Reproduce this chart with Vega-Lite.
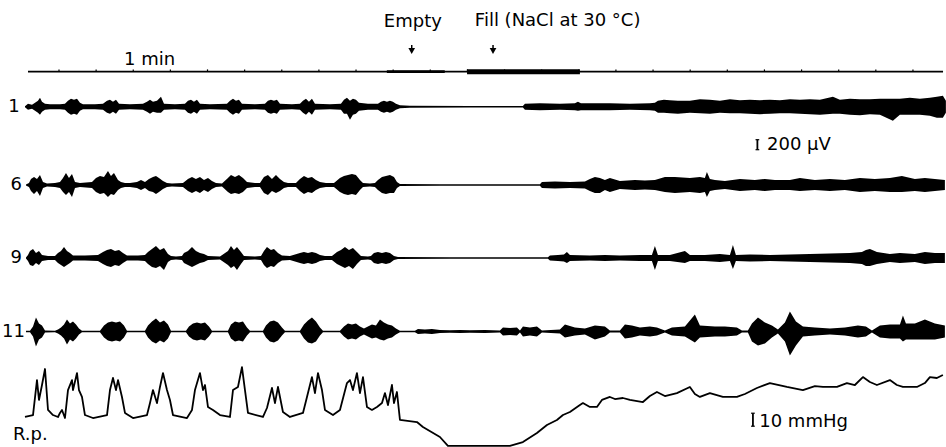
{
"$schema":"https://vega.github.io/schema/vega-lite/v6.json",
"padding":0,
"spacing":0,
"bounds":"flush",
"config":{"view":{"stroke":null},"text":{"font":"DejaVu Sans","fontSize":18,"color":"black"}},
"datasets":{
"ticks":[{"t":10},{"t":20},{"t":30},{"t":40},{"t":50},{"t":60},{"t":70},{"t":80},{"t":90},{"t":100},{"t":110},{"t":120},{"t":130},{"t":140},{"t":150},{"t":160},{"t":170},{"t":180},{"t":190},{"t":200},{"t":210},{"t":220},{"t":230},{"t":240}],
"tr":[
{"k":1,"t":0.84,"u":10,"d":-10},{"k":1,"t":1.65,"u":60,"d":-60},{"k":1,"t":2.73,"u":40,"d":-40},{"k":1,"t":3.54,"u":80,"d":-80},{"k":1,"t":4.34,"u":120,"d":-120},{"k":1,"t":4.88,"u":180,"d":-160},{"k":1,"t":5.42,"u":100,"d":-100},{"k":1,"t":6.23,"u":60,"d":-60},{"k":1,"t":7.58,"u":50,"d":-50},{"k":1,"t":10.27,"u":50,"d":-50},{"k":1,"t":11.61,"u":60,"d":-60},{"k":1,"t":12.42,"u":120,"d":-120},{"k":1,"t":13.23,"u":160,"d":-160},{"k":1,"t":14.04,"u":140,"d":-140},{"k":1,"t":14.85,"u":160,"d":-160},{"k":1,"t":15.65,"u":80,"d":-80},{"k":1,"t":16.46,"u":50,"d":-50},{"k":1,"t":19.69,"u":50,"d":-50},{"k":1,"t":21.85,"u":60,"d":-60},{"k":1,"t":22.93,"u":120,"d":-120},{"k":1,"t":23.73,"u":140,"d":-140},{"k":1,"t":24.54,"u":100,"d":-100},{"k":1,"t":25.35,"u":140,"d":-140},{"k":1,"t":26.16,"u":60,"d":-60},{"k":1,"t":29.12,"u":50,"d":-50},{"k":1,"t":32.62,"u":60,"d":-60},{"k":1,"t":33.70,"u":100,"d":-100},{"k":1,"t":34.51,"u":140,"d":-140},{"k":1,"t":35.31,"u":100,"d":-100},{"k":1,"t":36.39,"u":120,"d":-120},{"k":1,"t":37.47,"u":200,"d":-120},{"k":1,"t":38.28,"u":60,"d":-60},{"k":1,"t":41.24,"u":50,"d":-50},{"k":1,"t":43.93,"u":60,"d":-60},{"k":1,"t":44.74,"u":120,"d":-120},{"k":1,"t":45.55,"u":140,"d":-140},{"k":1,"t":46.35,"u":100,"d":-100},{"k":1,"t":47.16,"u":140,"d":-140},{"k":1,"t":47.97,"u":60,"d":-60},{"k":1,"t":50.66,"u":50,"d":-50},{"k":1,"t":55.24,"u":60,"d":-60},{"k":1,"t":56.05,"u":120,"d":-120},{"k":1,"t":56.86,"u":160,"d":-160},{"k":1,"t":57.66,"u":120,"d":-120},{"k":1,"t":58.47,"u":140,"d":-140},{"k":1,"t":59.28,"u":60,"d":-60},{"k":1,"t":62.78,"u":50,"d":-50},{"k":1,"t":65.47,"u":60,"d":-60},{"k":1,"t":66.28,"u":120,"d":-120},{"k":1,"t":67.09,"u":140,"d":-140},{"k":1,"t":67.90,"u":120,"d":-120},{"k":1,"t":68.70,"u":140,"d":-140},{"k":1,"t":69.51,"u":60,"d":-60},{"k":1,"t":72.75,"u":50,"d":-50},{"k":1,"t":74.90,"u":60,"d":-60},{"k":1,"t":75.71,"u":120,"d":-120},{"k":1,"t":76.52,"u":160,"d":-160},{"k":1,"t":77.32,"u":100,"d":-100},{"k":1,"t":78.13,"u":160,"d":-160},{"k":1,"t":78.94,"u":60,"d":-60},{"k":1,"t":82.98,"u":50,"d":-50},{"k":1,"t":85.94,"u":60,"d":-60},{"k":1,"t":86.75,"u":140,"d":-140},{"k":1,"t":87.56,"u":180,"d":-140},{"k":1,"t":88.37,"u":120,"d":-260},{"k":1,"t":89.17,"u":160,"d":-160},{"k":1,"t":89.98,"u":140,"d":-140},{"k":1,"t":90.79,"u":80,"d":-80},{"k":1,"t":93.21,"u":60,"d":-60},{"k":1,"t":95.91,"u":60,"d":-60},{"k":1,"t":96.71,"u":100,"d":-100},{"k":1,"t":97.52,"u":120,"d":-120},{"k":1,"t":98.33,"u":100,"d":-100},{"k":1,"t":99.14,"u":120,"d":-120},{"k":1,"t":99.94,"u":100,"d":-100},{"k":1,"t":100.75,"u":60,"d":-60},{"k":1,"t":101.83,"u":30,"d":-30},{"k":1,"t":104.52,"u":20,"d":-20},{"k":1,"t":120.68,"u":16,"d":-16},{"k":1,"t":134.95,"u":16,"d":-16},{"k":1,"t":135.49,"u":60,"d":-60},{"k":1,"t":139.53,"u":70,"d":-70},{"k":1,"t":144.92,"u":60,"d":-60},{"k":1,"t":148.96,"u":70,"d":-70},{"k":1,"t":149.77,"u":100,"d":-80},{"k":1,"t":150.58,"u":70,"d":-70},{"k":1,"t":154.34,"u":70,"d":-70},{"k":1,"t":158.38,"u":70,"d":-70},{"k":1,"t":163.77,"u":60,"d":-60},{"k":1,"t":169.15,"u":70,"d":-70},{"k":1,"t":170.50,"u":80,"d":-80},{"k":1,"t":171.31,"u":120,"d":-120},{"k":1,"t":172.92,"u":140,"d":-120},{"k":1,"t":174.54,"u":130,"d":-130},{"k":1,"t":176.70,"u":120,"d":-140},{"k":1,"t":179.93,"u":120,"d":-120},{"k":1,"t":182.62,"u":150,"d":-130},{"k":1,"t":185.31,"u":140,"d":-140},{"k":1,"t":188.01,"u":120,"d":-120},{"k":1,"t":190.70,"u":150,"d":-130},{"k":1,"t":193.39,"u":130,"d":-130},{"k":1,"t":196.08,"u":140,"d":-140},{"k":1,"t":198.78,"u":130,"d":-150},{"k":1,"t":201.47,"u":140,"d":-140},{"k":1,"t":204.16,"u":130,"d":-130},{"k":1,"t":206.86,"u":150,"d":-130},{"k":1,"t":209.55,"u":140,"d":-140},{"k":1,"t":212.24,"u":150,"d":-150},{"k":1,"t":214.94,"u":140,"d":-160},{"k":1,"t":218.44,"u":200,"d":-140},{"k":1,"t":220.32,"u":140,"d":-140},{"k":1,"t":223.02,"u":160,"d":-160},{"k":1,"t":225.71,"u":150,"d":-170},{"k":1,"t":228.40,"u":150,"d":-150},{"k":1,"t":231.10,"u":160,"d":-160},{"k":1,"t":234.60,"u":160,"d":-280},{"k":1,"t":236.48,"u":160,"d":-160},{"k":1,"t":239.17,"u":180,"d":-160},{"k":1,"t":241.87,"u":160,"d":-160},{"k":1,"t":244.56,"u":180,"d":-180},{"k":1,"t":246.44,"u":200,"d":-220},{"k":1,"t":248.06,"u":220,"d":-220},{"k":1,"t":248.87,"u":120,"d":-120},
{"k":6,"t":1.11,"u":10,"d":-10},{"k":6,"t":1.92,"u":40,"d":-40},{"k":6,"t":2.46,"u":120,"d":-120},{"k":6,"t":3.27,"u":160,"d":-180},{"k":6,"t":4.07,"u":120,"d":-120},{"k":6,"t":4.88,"u":200,"d":-220},{"k":6,"t":5.69,"u":60,"d":-60},{"k":6,"t":6.77,"u":30,"d":-30},{"k":6,"t":8.92,"u":40,"d":-40},{"k":6,"t":10.27,"u":60,"d":-60},{"k":6,"t":11.08,"u":140,"d":-140},{"k":6,"t":11.88,"u":240,"d":-200},{"k":6,"t":12.69,"u":140,"d":-140},{"k":6,"t":13.50,"u":220,"d":-240},{"k":6,"t":14.31,"u":60,"d":-60},{"k":6,"t":15.65,"u":40,"d":-40},{"k":6,"t":18.89,"u":60,"d":-60},{"k":6,"t":19.96,"u":140,"d":-140},{"k":6,"t":21.04,"u":180,"d":-180},{"k":6,"t":22.12,"u":160,"d":-160},{"k":6,"t":23.19,"u":280,"d":-240},{"k":6,"t":24.00,"u":180,"d":-180},{"k":6,"t":24.81,"u":240,"d":-200},{"k":6,"t":25.89,"u":100,"d":-100},{"k":6,"t":26.70,"u":60,"d":-60},{"k":6,"t":27.77,"u":40,"d":-40},{"k":6,"t":29.12,"u":40,"d":-40},{"k":6,"t":31.00,"u":60,"d":-60},{"k":6,"t":32.08,"u":100,"d":-100},{"k":6,"t":33.16,"u":60,"d":-60},{"k":6,"t":34.24,"u":120,"d":-120},{"k":6,"t":35.31,"u":160,"d":-140},{"k":6,"t":36.12,"u":180,"d":-180},{"k":6,"t":36.93,"u":140,"d":-140},{"k":6,"t":38.01,"u":80,"d":-80},{"k":6,"t":39.08,"u":40,"d":-40},{"k":6,"t":40.43,"u":30,"d":-30},{"k":6,"t":43.39,"u":40,"d":-40},{"k":6,"t":44.74,"u":120,"d":-120},{"k":6,"t":45.82,"u":160,"d":-160},{"k":6,"t":46.89,"u":120,"d":-120},{"k":6,"t":47.97,"u":160,"d":-160},{"k":6,"t":49.05,"u":100,"d":-100},{"k":6,"t":50.13,"u":140,"d":-140},{"k":6,"t":51.20,"u":80,"d":-80},{"k":6,"t":52.28,"u":40,"d":-40},{"k":6,"t":53.90,"u":30,"d":-30},{"k":6,"t":55.51,"u":140,"d":-140},{"k":6,"t":56.32,"u":200,"d":-180},{"k":6,"t":57.40,"u":160,"d":-160},{"k":6,"t":58.47,"u":200,"d":-180},{"k":6,"t":59.55,"u":140,"d":-140},{"k":6,"t":60.63,"u":60,"d":-60},{"k":6,"t":62.78,"u":40,"d":-40},{"k":6,"t":64.13,"u":40,"d":-40},{"k":6,"t":65.20,"u":160,"d":-160},{"k":6,"t":66.28,"u":200,"d":-200},{"k":6,"t":67.36,"u":120,"d":-120},{"k":6,"t":68.44,"u":200,"d":-160},{"k":6,"t":69.51,"u":120,"d":-120},{"k":6,"t":70.59,"u":60,"d":-60},{"k":6,"t":71.67,"u":40,"d":-40},{"k":6,"t":73.82,"u":40,"d":-40},{"k":6,"t":74.90,"u":120,"d":-120},{"k":6,"t":75.98,"u":180,"d":-180},{"k":6,"t":77.06,"u":140,"d":-140},{"k":6,"t":78.13,"u":160,"d":-160},{"k":6,"t":79.21,"u":100,"d":-100},{"k":6,"t":80.29,"u":60,"d":-60},{"k":6,"t":81.90,"u":40,"d":-40},{"k":6,"t":84.06,"u":40,"d":-40},{"k":6,"t":85.67,"u":140,"d":-140},{"k":6,"t":86.75,"u":180,"d":-180},{"k":6,"t":87.83,"u":200,"d":-200},{"k":6,"t":88.90,"u":220,"d":-180},{"k":6,"t":89.98,"u":200,"d":-200},{"k":6,"t":91.06,"u":100,"d":-100},{"k":6,"t":91.87,"u":40,"d":-40},{"k":6,"t":93.75,"u":30,"d":-30},{"k":6,"t":95.10,"u":40,"d":-40},{"k":6,"t":95.91,"u":100,"d":-100},{"k":6,"t":96.99,"u":160,"d":-160},{"k":6,"t":98.06,"u":180,"d":-180},{"k":6,"t":99.14,"u":200,"d":-160},{"k":6,"t":100.22,"u":160,"d":-160},{"k":6,"t":101.03,"u":60,"d":-60},{"k":6,"t":101.83,"u":20,"d":-20},{"k":6,"t":112.60,"u":14,"d":-14},{"k":6,"t":139.53,"u":14,"d":-14},{"k":6,"t":140.07,"u":60,"d":-60},{"k":6,"t":143.57,"u":70,"d":-70},{"k":6,"t":147.61,"u":60,"d":-60},{"k":6,"t":151.65,"u":70,"d":-70},{"k":6,"t":152.99,"u":120,"d":-120},{"k":6,"t":154.34,"u":160,"d":-160},{"k":6,"t":155.69,"u":140,"d":-160},{"k":6,"t":157.04,"u":100,"d":-100},{"k":6,"t":158.38,"u":140,"d":-140},{"k":6,"t":161.07,"u":80,"d":-80},{"k":6,"t":165.11,"u":100,"d":-100},{"k":6,"t":167.80,"u":90,"d":-90},{"k":6,"t":170.50,"u":100,"d":-100},{"k":6,"t":173.19,"u":160,"d":-140},{"k":6,"t":175.88,"u":160,"d":-160},{"k":6,"t":179.93,"u":140,"d":-140},{"k":6,"t":182.62,"u":160,"d":-160},{"k":6,"t":183.96,"u":140,"d":-140},{"k":6,"t":184.50,"u":260,"d":-240},{"k":6,"t":185.31,"u":120,"d":-120},{"k":6,"t":186.66,"u":100,"d":-100},{"k":6,"t":189.35,"u":80,"d":-80},{"k":6,"t":193.39,"u":120,"d":-120},{"k":6,"t":197.43,"u":100,"d":-100},{"k":6,"t":200.12,"u":120,"d":-120},{"k":6,"t":202.81,"u":100,"d":-100},{"k":6,"t":206.86,"u":100,"d":-100},{"k":6,"t":209.55,"u":140,"d":-120},{"k":6,"t":213.59,"u":100,"d":-100},{"k":6,"t":217.63,"u":120,"d":-120},{"k":6,"t":221.67,"u":100,"d":-100},{"k":6,"t":225.71,"u":140,"d":-140},{"k":6,"t":229.75,"u":120,"d":-120},{"k":6,"t":233.79,"u":140,"d":-140},{"k":6,"t":237.02,"u":180,"d":-140},{"k":6,"t":240.52,"u":120,"d":-120},{"k":6,"t":243.21,"u":140,"d":-140},{"k":6,"t":245.90,"u":120,"d":-120},{"k":6,"t":248.60,"u":100,"d":-100},
{"k":9,"t":1.11,"u":10,"d":-10},{"k":9,"t":1.65,"u":60,"d":-60},{"k":9,"t":2.19,"u":140,"d":-140},{"k":9,"t":3.00,"u":180,"d":-160},{"k":9,"t":3.80,"u":100,"d":-100},{"k":9,"t":4.61,"u":140,"d":-140},{"k":9,"t":5.42,"u":60,"d":-60},{"k":9,"t":7.04,"u":40,"d":-40},{"k":9,"t":8.92,"u":40,"d":-40},{"k":9,"t":9.73,"u":100,"d":-100},{"k":9,"t":10.54,"u":140,"d":-140},{"k":9,"t":11.35,"u":220,"d":-180},{"k":9,"t":12.15,"u":140,"d":-140},{"k":9,"t":12.96,"u":100,"d":-100},{"k":9,"t":13.77,"u":50,"d":-50},{"k":9,"t":16.99,"u":50,"d":-50},{"k":9,"t":20.50,"u":60,"d":-60},{"k":9,"t":21.85,"u":120,"d":-120},{"k":9,"t":22.93,"u":160,"d":-160},{"k":9,"t":24.00,"u":180,"d":-180},{"k":9,"t":25.08,"u":140,"d":-140},{"k":9,"t":26.16,"u":160,"d":-160},{"k":9,"t":27.23,"u":100,"d":-100},{"k":9,"t":28.31,"u":50,"d":-50},{"k":9,"t":31.27,"u":50,"d":-50},{"k":9,"t":33.16,"u":60,"d":-60},{"k":9,"t":33.97,"u":120,"d":-120},{"k":9,"t":35.04,"u":180,"d":-180},{"k":9,"t":36.12,"u":240,"d":-200},{"k":9,"t":37.20,"u":160,"d":-160},{"k":9,"t":38.28,"u":200,"d":-240},{"k":9,"t":39.35,"u":80,"d":-80},{"k":9,"t":40.16,"u":40,"d":-40},{"k":9,"t":41.51,"u":30,"d":-30},{"k":9,"t":43.12,"u":40,"d":-40},{"k":9,"t":43.66,"u":100,"d":-100},{"k":9,"t":44.74,"u":140,"d":-140},{"k":9,"t":45.82,"u":220,"d":-180},{"k":9,"t":46.89,"u":140,"d":-140},{"k":9,"t":47.97,"u":100,"d":-100},{"k":9,"t":49.05,"u":80,"d":-80},{"k":9,"t":50.13,"u":40,"d":-40},{"k":9,"t":53.36,"u":30,"d":-30},{"k":9,"t":55.51,"u":140,"d":-140},{"k":9,"t":56.32,"u":240,"d":-200},{"k":9,"t":57.13,"u":160,"d":-160},{"k":9,"t":57.94,"u":220,"d":-240},{"k":9,"t":59.01,"u":120,"d":-120},{"k":9,"t":59.82,"u":40,"d":-40},{"k":9,"t":62.78,"u":30,"d":-30},{"k":9,"t":64.40,"u":40,"d":-40},{"k":9,"t":65.20,"u":140,"d":-140},{"k":9,"t":66.01,"u":220,"d":-200},{"k":9,"t":67.09,"u":160,"d":-160},{"k":9,"t":67.90,"u":180,"d":-180},{"k":9,"t":68.98,"u":100,"d":-100},{"k":9,"t":70.05,"u":50,"d":-50},{"k":9,"t":72.21,"u":40,"d":-40},{"k":9,"t":74.90,"u":100,"d":-100},{"k":9,"t":75.98,"u":120,"d":-120},{"k":9,"t":77.06,"u":100,"d":-100},{"k":9,"t":78.13,"u":120,"d":-120},{"k":9,"t":79.21,"u":100,"d":-100},{"k":9,"t":80.29,"u":60,"d":-60},{"k":9,"t":81.64,"u":40,"d":-40},{"k":9,"t":83.52,"u":40,"d":-40},{"k":9,"t":84.87,"u":120,"d":-120},{"k":9,"t":85.94,"u":160,"d":-160},{"k":9,"t":87.02,"u":220,"d":-200},{"k":9,"t":88.10,"u":160,"d":-160},{"k":9,"t":89.17,"u":200,"d":-220},{"k":9,"t":90.25,"u":120,"d":-120},{"k":9,"t":91.33,"u":40,"d":-40},{"k":9,"t":93.21,"u":30,"d":-30},{"k":9,"t":94.02,"u":40,"d":-40},{"k":9,"t":94.83,"u":100,"d":-100},{"k":9,"t":95.91,"u":120,"d":-120},{"k":9,"t":96.99,"u":100,"d":-100},{"k":9,"t":98.06,"u":120,"d":-120},{"k":9,"t":99.14,"u":100,"d":-100},{"k":9,"t":100.22,"u":40,"d":-40},{"k":9,"t":101.29,"u":20,"d":-20},{"k":9,"t":115.30,"u":14,"d":-14},{"k":9,"t":141.69,"u":14,"d":-14},{"k":9,"t":142.23,"u":50,"d":-50},{"k":9,"t":144.38,"u":60,"d":-60},{"k":9,"t":146.00,"u":70,"d":-70},{"k":9,"t":146.80,"u":120,"d":-100},{"k":9,"t":147.61,"u":60,"d":-60},{"k":9,"t":152.99,"u":50,"d":-50},{"k":9,"t":157.04,"u":60,"d":-60},{"k":9,"t":161.07,"u":50,"d":-50},{"k":9,"t":166.46,"u":60,"d":-60},{"k":9,"t":169.69,"u":60,"d":-60},{"k":9,"t":170.50,"u":240,"d":-240},{"k":9,"t":171.31,"u":60,"d":-60},{"k":9,"t":174.54,"u":60,"d":-60},{"k":9,"t":178.58,"u":140,"d":-100},{"k":9,"t":179.93,"u":60,"d":-60},{"k":9,"t":183.96,"u":60,"d":-60},{"k":9,"t":188.00,"u":80,"d":-80},{"k":9,"t":190.70,"u":60,"d":-60},{"k":9,"t":191.51,"u":260,"d":-220},{"k":9,"t":192.31,"u":60,"d":-60},{"k":9,"t":196.08,"u":70,"d":-70},{"k":9,"t":201.47,"u":60,"d":-60},{"k":9,"t":206.86,"u":70,"d":-70},{"k":9,"t":212.24,"u":80,"d":-80},{"k":9,"t":217.63,"u":90,"d":-90},{"k":9,"t":223.02,"u":100,"d":-100},{"k":9,"t":226.25,"u":120,"d":-120},{"k":9,"t":227.33,"u":160,"d":-160},{"k":9,"t":228.41,"u":180,"d":-160},{"k":9,"t":230.30,"u":120,"d":-120},{"k":9,"t":233.79,"u":80,"d":-80},{"k":9,"t":236.48,"u":100,"d":-100},{"k":9,"t":240.52,"u":80,"d":-80},{"k":9,"t":243.21,"u":120,"d":-120},{"k":9,"t":245.90,"u":100,"d":-100},{"k":9,"t":248.60,"u":100,"d":-100},
{"k":11,"t":1.11,"u":14,"d":-14},{"k":11,"t":2.19,"u":14,"d":-14},{"k":11,"t":3.00,"u":100,"d":-100},{"k":11,"t":3.80,"u":280,"d":-300},{"k":11,"t":4.61,"u":160,"d":-160},{"k":11,"t":5.42,"u":120,"d":-120},{"k":11,"t":6.23,"u":20,"d":-20},{"k":11,"t":8.92,"u":14,"d":-14},{"k":11,"t":9.73,"u":40,"d":-40},{"k":11,"t":10.54,"u":80,"d":-80},{"k":11,"t":11.35,"u":140,"d":-140},{"k":11,"t":12.15,"u":240,"d":-260},{"k":11,"t":12.96,"u":160,"d":-160},{"k":11,"t":13.77,"u":200,"d":-200},{"k":11,"t":14.58,"u":140,"d":-140},{"k":11,"t":15.38,"u":60,"d":-60},{"k":11,"t":16.19,"u":14,"d":-14},{"k":11,"t":21.04,"u":14,"d":-14},{"k":11,"t":22.12,"u":120,"d":-120},{"k":11,"t":23.19,"u":180,"d":-180},{"k":11,"t":24.27,"u":200,"d":-200},{"k":11,"t":25.35,"u":180,"d":-180},{"k":11,"t":26.43,"u":200,"d":-200},{"k":11,"t":27.50,"u":120,"d":-120},{"k":11,"t":28.31,"u":14,"d":-14},{"k":11,"t":33.16,"u":14,"d":-14},{"k":11,"t":33.97,"u":120,"d":-120},{"k":11,"t":35.04,"u":200,"d":-200},{"k":11,"t":36.12,"u":260,"d":-240},{"k":11,"t":37.20,"u":180,"d":-180},{"k":11,"t":38.28,"u":220,"d":-220},{"k":11,"t":39.35,"u":140,"d":-140},{"k":11,"t":40.16,"u":14,"d":-14},{"k":11,"t":44.20,"u":14,"d":-14},{"k":11,"t":45.01,"u":100,"d":-100},{"k":11,"t":46.09,"u":160,"d":-160},{"k":11,"t":47.16,"u":180,"d":-180},{"k":11,"t":48.24,"u":160,"d":-160},{"k":11,"t":49.32,"u":180,"d":-180},{"k":11,"t":50.39,"u":100,"d":-100},{"k":11,"t":51.20,"u":14,"d":-14},{"k":11,"t":55.51,"u":14,"d":-14},{"k":11,"t":56.32,"u":140,"d":-140},{"k":11,"t":57.40,"u":200,"d":-200},{"k":11,"t":58.47,"u":180,"d":-180},{"k":11,"t":59.55,"u":200,"d":-200},{"k":11,"t":60.63,"u":80,"d":-80},{"k":11,"t":61.44,"u":14,"d":-14},{"k":11,"t":64.94,"u":14,"d":-14},{"k":11,"t":65.74,"u":120,"d":-120},{"k":11,"t":66.82,"u":200,"d":-200},{"k":11,"t":67.90,"u":220,"d":-220},{"k":11,"t":68.98,"u":180,"d":-180},{"k":11,"t":70.05,"u":80,"d":-80},{"k":11,"t":70.86,"u":14,"d":-14},{"k":11,"t":74.90,"u":14,"d":-14},{"k":11,"t":75.98,"u":140,"d":-140},{"k":11,"t":77.06,"u":220,"d":-220},{"k":11,"t":78.13,"u":280,"d":-240},{"k":11,"t":79.21,"u":200,"d":-200},{"k":11,"t":80.29,"u":80,"d":-80},{"k":11,"t":81.10,"u":14,"d":-14},{"k":11,"t":85.67,"u":14,"d":-14},{"k":11,"t":86.75,"u":100,"d":-100},{"k":11,"t":87.83,"u":160,"d":-160},{"k":11,"t":88.90,"u":140,"d":-140},{"k":11,"t":89.98,"u":160,"d":-160},{"k":11,"t":91.06,"u":100,"d":-100},{"k":11,"t":92.14,"u":60,"d":-60},{"k":11,"t":93.21,"u":100,"d":-100},{"k":11,"t":94.29,"u":140,"d":-140},{"k":11,"t":95.37,"u":120,"d":-120},{"k":11,"t":96.45,"u":240,"d":-160},{"k":11,"t":97.52,"u":180,"d":-180},{"k":11,"t":98.60,"u":140,"d":-140},{"k":11,"t":99.68,"u":120,"d":-120},{"k":11,"t":100.75,"u":60,"d":-60},{"k":11,"t":101.83,"u":14,"d":-14},{"k":11,"t":105.87,"u":14,"d":-14},{"k":11,"t":106.68,"u":50,"d":-50},{"k":11,"t":108.56,"u":40,"d":-40},{"k":11,"t":110.45,"u":50,"d":-50},{"k":11,"t":112.60,"u":30,"d":-30},{"k":11,"t":115.30,"u":24,"d":-24},{"k":11,"t":117.99,"u":30,"d":-30},{"k":11,"t":120.68,"u":24,"d":-24},{"k":11,"t":124.72,"u":30,"d":-30},{"k":11,"t":128.76,"u":20,"d":-20},{"k":11,"t":129.57,"u":80,"d":-80},{"k":11,"t":131.45,"u":70,"d":-70},{"k":11,"t":133.34,"u":80,"d":-80},{"k":11,"t":134.15,"u":20,"d":-20},{"k":11,"t":134.96,"u":100,"d":-100},{"k":11,"t":136.84,"u":80,"d":-80},{"k":11,"t":138.73,"u":100,"d":-100},{"k":11,"t":140.07,"u":20,"d":-20},{"k":11,"t":144.92,"u":40,"d":-40},{"k":11,"t":146.27,"u":140,"d":-120},{"k":11,"t":148.96,"u":80,"d":-80},{"k":11,"t":151.65,"u":60,"d":-60},{"k":11,"t":154.34,"u":120,"d":-160},{"k":11,"t":157.04,"u":100,"d":-100},{"k":11,"t":158.38,"u":20,"d":-20},{"k":11,"t":161.07,"u":20,"d":-20},{"k":11,"t":162.42,"u":140,"d":-140},{"k":11,"t":164.31,"u":120,"d":-120},{"k":11,"t":166.46,"u":80,"d":-80},{"k":11,"t":169.15,"u":100,"d":-100},{"k":11,"t":171.04,"u":80,"d":-80},{"k":11,"t":173.19,"u":20,"d":-20},{"k":11,"t":175.08,"u":80,"d":-80},{"k":11,"t":178.58,"u":100,"d":-100},{"k":11,"t":181.27,"u":340,"d":-220},{"k":11,"t":182.62,"u":120,"d":-120},{"k":11,"t":186.66,"u":100,"d":-100},{"k":11,"t":189.35,"u":100,"d":-100},{"k":11,"t":192.58,"u":80,"d":-80},{"k":11,"t":193.93,"u":20,"d":-20},{"k":11,"t":195.55,"u":20,"d":-20},{"k":11,"t":196.63,"u":160,"d":-200},{"k":11,"t":198.25,"u":280,"d":-280},{"k":11,"t":200.13,"u":180,"d":-240},{"k":11,"t":202.02,"u":120,"d":-120},{"k":11,"t":203.63,"u":40,"d":-40},{"k":11,"t":205.52,"u":180,"d":-200},{"k":11,"t":206.86,"u":400,"d":-480},{"k":11,"t":208.48,"u":200,"d":-280},{"k":11,"t":210.37,"u":100,"d":-100},{"k":11,"t":213.60,"u":80,"d":-80},{"k":11,"t":217.64,"u":60,"d":-60},{"k":11,"t":221.68,"u":80,"d":-80},{"k":11,"t":225.18,"u":120,"d":-120},{"k":11,"t":227.33,"u":100,"d":-100},{"k":11,"t":228.95,"u":20,"d":-20},{"k":11,"t":231.10,"u":120,"d":-120},{"k":11,"t":233.80,"u":140,"d":-140},{"k":11,"t":236.49,"u":140,"d":-140},{"k":11,"t":237.30,"u":320,"d":-200},{"k":11,"t":238.11,"u":160,"d":-160},{"k":11,"t":240.53,"u":160,"d":-160},{"k":11,"t":243.22,"u":240,"d":-160},{"k":11,"t":245.91,"u":160,"d":-160},{"k":11,"t":248.60,"u":120,"d":-120}
],
"rp":[
{"t":0.84,"p":23.1},{"t":3.00,"p":24.6},{"t":4.07,"p":51.5},{"t":4.61,"p":36.2},{"t":5.42,"p":47.7},{"t":6.23,"p":60.0},{"t":7.04,"p":28.5},{"t":8.38,"p":24.6},{"t":9.73,"p":23.1},{"t":10.27,"p":26.2},{"t":10.81,"p":28.5},{"t":11.61,"p":22.3},{"t":12.42,"p":43.8},{"t":13.50,"p":51.5},{"t":13.77,"p":43.8},{"t":14.85,"p":56.9},{"t":15.38,"p":43.8},{"t":16.19,"p":38.5},{"t":16.99,"p":24.6},{"t":19.15,"p":22.3},{"t":22.93,"p":24.6},{"t":23.73,"p":43.8},{"t":24.54,"p":53.1},{"t":25.35,"p":43.8},{"t":25.89,"p":51.5},{"t":26.96,"p":38.5},{"t":27.77,"p":26.2},{"t":29.93,"p":22.3},{"t":33.70,"p":24.6},{"t":34.51,"p":33.8},{"t":35.31,"p":43.8},{"t":36.39,"p":33.8},{"t":37.20,"p":46.2},{"t":38.01,"p":56.9},{"t":39.08,"p":43.8},{"t":39.89,"p":36.2},{"t":40.70,"p":24.6},{"t":44.47,"p":22.3},{"t":45.82,"p":28.5},{"t":46.62,"p":43.8},{"t":47.97,"p":56.9},{"t":48.78,"p":43.8},{"t":49.32,"p":47.7},{"t":50.12,"p":30.8},{"t":51.47,"p":28.5},{"t":53.36,"p":24.6},{"t":56.05,"p":23.1},{"t":56.86,"p":43.8},{"t":58.20,"p":46.2},{"t":59.28,"p":61.5},{"t":60.09,"p":43.8},{"t":60.90,"p":26.2},{"t":64.94,"p":23.1},{"t":66.01,"p":30.0},{"t":67.36,"p":45.4},{"t":68.17,"p":33.8},{"t":68.98,"p":46.2},{"t":70.32,"p":26.9},{"t":72.21,"p":23.1},{"t":75.71,"p":26.2},{"t":76.79,"p":38.5},{"t":78.13,"p":53.8},{"t":78.94,"p":41.5},{"t":79.75,"p":56.9},{"t":80.83,"p":43.8},{"t":81.63,"p":28.5},{"t":83.79,"p":24.6},{"t":85.67,"p":28.5},{"t":87.56,"p":49.2},{"t":88.37,"p":51.5},{"t":89.17,"p":43.8},{"t":90.25,"p":56.9},{"t":91.06,"p":41.5},{"t":91.87,"p":53.8},{"t":92.94,"p":30.8},{"t":94.29,"p":28.5},{"t":95.64,"p":30.8},{"t":96.99,"p":33.8},{"t":97.79,"p":41.5},{"t":98.60,"p":32.3},{"t":99.68,"p":47.7},{"t":100.22,"p":33.8},{"t":101.02,"p":42.3},{"t":101.83,"p":20.8},{"t":106.41,"p":19.2},{"t":108.02,"p":15.4},{"t":112.60,"p":7.7},{"t":114.75,"p":0.8},{"t":131.45,"p":0.8},{"t":134.95,"p":3.8},{"t":138.73,"p":10.8},{"t":141.42,"p":16.9},{"t":144.11,"p":20.8},{"t":145.73,"p":24.6},{"t":147.61,"p":26.9},{"t":150.30,"p":32.3},{"t":151.11,"p":33.8},{"t":152.99,"p":30.8},{"t":154.88,"p":30.8},{"t":156.23,"p":36.2},{"t":158.38,"p":38.5},{"t":159.73,"p":36.9},{"t":161.88,"p":37.7},{"t":163.77,"p":36.2},{"t":167.27,"p":34.6},{"t":169.15,"p":39.2},{"t":171.04,"p":42.3},{"t":173.19,"p":39.2},{"t":176.42,"p":41.5},{"t":179.92,"p":46.2},{"t":181.27,"p":40.8},{"t":182.62,"p":38.5},{"t":185.31,"p":41.5},{"t":188.81,"p":38.5},{"t":192.58,"p":38.5},{"t":194.74,"p":40.8},{"t":197.97,"p":45.4},{"t":201.47,"p":49.2},{"t":206.05,"p":46.2},{"t":210.36,"p":43.8},{"t":213.59,"p":46.9},{"t":215.75,"p":46.2},{"t":219.52,"p":46.2},{"t":222.21,"p":49.2},{"t":224.36,"p":47.7},{"t":226.52,"p":53.8},{"t":228.40,"p":50.0},{"t":230.29,"p":47.7},{"t":233.79,"p":51.5},{"t":235.67,"p":47.7},{"t":237.29,"p":46.2},{"t":241.06,"p":46.2},{"t":243.21,"p":49.2},{"t":244.56,"p":53.8},{"t":246.44,"p":53.1},{"t":248.06,"p":55.4}
]
},
"vconcat":[
{"width":946,"height":72,
 "layer":[
  {"data":{"name":"ticks"},"mark":{"type":"rule","color":"black","strokeWidth":1.2},
   "encoding":{"x":{"field":"t","type":"quantitative","scale":{"domain":[-5.89,248.9],"nice":false,"zero":false},"axis":null},
    "y":{"datum":0.3,"type":"quantitative","scale":{"domain":[0,72],"nice":false,"zero":false},"axis":null},"y2":{"datum":2.6}}},
  {"data":{"values":[{}]},"mark":{"type":"rule","color":"black","strokeWidth":1.8},
   "encoding":{"x":{"datum":1.65,"type":"quantitative","scale":{"domain":[-5.89,248.9],"nice":false,"zero":false},"axis":null},"x2":{"datum":248.1},
    "y":{"datum":0.3,"type":"quantitative","scale":{"domain":[0,72],"nice":false,"zero":false},"axis":null}}},
  {"data":{"values":[{}]},"mark":{"type":"rule","color":"black","strokeWidth":2.8},
   "encoding":{"x":{"datum":98.3,"type":"quantitative","scale":{"domain":[-5.89,248.9],"nice":false,"zero":false},"axis":null},"x2":{"datum":113.9},
    "y":{"datum":0.3,"type":"quantitative","scale":{"domain":[0,72],"nice":false,"zero":false},"axis":null}}},
  {"data":{"values":[{}]},"mark":{"type":"rule","color":"black","strokeWidth":5},
   "encoding":{"x":{"datum":119.9,"type":"quantitative","scale":{"domain":[-5.89,248.9],"nice":false,"zero":false},"axis":null},"x2":{"datum":150.3},
    "y":{"datum":0.3,"type":"quantitative","scale":{"domain":[0,72],"nice":false,"zero":false},"axis":null}}},
  {"data":{"values":[{}]},"mark":{"type":"text","text":"1 min","align":"left","baseline":"alphabetic"},
   "encoding":{"x":{"datum":27.5,"type":"quantitative","scale":{"domain":[-5.89,248.9],"nice":false,"zero":false},"axis":null},
    "y":{"datum":7,"type":"quantitative","scale":{"domain":[0,72],"nice":false,"zero":false},"axis":null}}},
  {"data":{"values":[{}]},"mark":{"type":"text","text":"Empty","align":"center","baseline":"alphabetic"},
   "encoding":{"x":{"datum":105.3,"type":"quantitative","scale":{"domain":[-5.89,248.9],"nice":false,"zero":false},"axis":null},
    "y":{"datum":44.7,"type":"quantitative","scale":{"domain":[0,72],"nice":false,"zero":false},"axis":null}}},
  {"data":{"values":[{}]},"mark":{"type":"text","text":"Fill (NaCl at 30 °C)","align":"left","baseline":"alphabetic"},
   "encoding":{"x":{"datum":122.0,"type":"quantitative","scale":{"domain":[-5.89,248.9],"nice":false,"zero":false},"axis":null},
    "y":{"datum":46,"type":"quantitative","scale":{"domain":[0,72],"nice":false,"zero":false},"axis":null}}},
  {"data":{"values":[{}]},"mark":{"type":"rule","color":"black","strokeWidth":1.5},
   "encoding":{"x":{"datum":105.0,"type":"quantitative","scale":{"domain":[-5.89,248.9],"nice":false,"zero":false},"axis":null},
    "y":{"datum":27,"type":"quantitative","scale":{"domain":[0,72],"nice":false,"zero":false},"axis":null},"y2":{"datum":22}}},
  {"data":{"values":[{}]},"mark":{"type":"rule","color":"black","strokeWidth":1.5},
   "encoding":{"x":{"datum":126.9,"type":"quantitative","scale":{"domain":[-5.89,248.9],"nice":false,"zero":false},"axis":null},
    "y":{"datum":27,"type":"quantitative","scale":{"domain":[0,72],"nice":false,"zero":false},"axis":null},"y2":{"datum":22}}},
  {"data":{"values":[{}]},"mark":{"type":"point","shape":"triangle-down","filled":true,"color":"black","size":45,"opacity":1},
   "encoding":{"x":{"datum":105.0,"type":"quantitative","scale":{"domain":[-5.89,248.9],"nice":false,"zero":false},"axis":null},
    "y":{"datum":21,"type":"quantitative","scale":{"domain":[0,72],"nice":false,"zero":false},"axis":null}}},
  {"data":{"values":[{}]},"mark":{"type":"point","shape":"triangle-down","filled":true,"color":"black","size":45,"opacity":1},
   "encoding":{"x":{"datum":126.9,"type":"quantitative","scale":{"domain":[-5.89,248.9],"nice":false,"zero":false},"axis":null},
    "y":{"datum":21,"type":"quantitative","scale":{"domain":[0,72],"nice":false,"zero":false},"axis":null}}}
 ]},
{"width":946,"height":80,
 "layer":[
  {"data":{"name":"tr"},"transform":[{"filter":"datum.k == 1"}],"mark":{"type":"area","color":"black","opacity":1},
   "encoding":{"x":{"field":"t","type":"quantitative","scale":{"domain":[-5.89,248.9],"nice":false,"zero":false},"axis":null},
    "y":{"field":"u","type":"quantitative","scale":{"domain":[-906,694],"nice":false,"zero":false},"axis":null},"y2":{"field":"d"}}},
  {"data":{"values":[{}]},"mark":{"type":"text","text":"1","align":"right","baseline":"middle"},
   "encoding":{"x":{"datum":-0.6,"type":"quantitative","scale":{"domain":[-5.89,248.9],"nice":false,"zero":false},"axis":null},
    "y":{"datum":0,"type":"quantitative","scale":{"domain":[-906,694],"nice":false,"zero":false},"axis":null}}},
  {"data":{"values":[{}]},"mark":{"type":"rule","color":"black","strokeWidth":1.8},
   "encoding":{"x":{"datum":198.1,"type":"quantitative","scale":{"domain":[-5.89,248.9],"nice":false,"zero":false},"axis":null},
    "y":{"datum":-660,"type":"quantitative","scale":{"domain":[-906,694],"nice":false,"zero":false},"axis":null},"y2":{"datum":-860}}},
  {"data":{"values":[{}]},"mark":{"type":"rule","color":"black","strokeWidth":1.2},
   "encoding":{"x":{"datum":197.6,"type":"quantitative","scale":{"domain":[-5.89,248.9],"nice":false,"zero":false},"axis":null},"x2":{"datum":198.6},
    "y":{"datum":-660,"type":"quantitative","scale":{"domain":[-906,694],"nice":false,"zero":false},"axis":null}}},
  {"data":{"values":[{}]},"mark":{"type":"rule","color":"black","strokeWidth":1.2},
   "encoding":{"x":{"datum":197.6,"type":"quantitative","scale":{"domain":[-5.89,248.9],"nice":false,"zero":false},"axis":null},"x2":{"datum":198.6},
    "y":{"datum":-860,"type":"quantitative","scale":{"domain":[-906,694],"nice":false,"zero":false},"axis":null}}},
  {"data":{"values":[{}]},"mark":{"type":"text","text":"200 µV","align":"left","baseline":"alphabetic"},
   "encoding":{"x":{"datum":200.7,"type":"quantitative","scale":{"domain":[-5.89,248.9],"nice":false,"zero":false},"axis":null},
    "y":{"datum":-875,"type":"quantitative","scale":{"domain":[-906,694],"nice":false,"zero":false},"axis":null}}}
 ]},
{"width":946,"height":70,
 "layer":[
  {"data":{"name":"tr"},"transform":[{"filter":"datum.k == 6"}],"mark":{"type":"area","color":"black","opacity":1},
   "encoding":{"x":{"field":"t","type":"quantitative","scale":{"domain":[-5.89,248.9],"nice":false,"zero":false},"axis":null},
    "y":{"field":"u","type":"quantitative","scale":{"domain":[-740,660],"nice":false,"zero":false},"axis":null},"y2":{"field":"d"}}},
  {"data":{"values":[{}]},"mark":{"type":"text","text":"6","align":"right","baseline":"middle"},
   "encoding":{"x":{"datum":0.0,"type":"quantitative","scale":{"domain":[-5.89,248.9],"nice":false,"zero":false},"axis":null},
    "y":{"datum":0,"type":"quantitative","scale":{"domain":[-740,660],"nice":false,"zero":false},"axis":null}}}
 ]},
{"width":946,"height":73,
 "layer":[
  {"data":{"name":"tr"},"transform":[{"filter":"datum.k == 9"}],"mark":{"type":"area","color":"black","opacity":1},
   "encoding":{"x":{"field":"t","type":"quantitative","scale":{"domain":[-5.89,248.9],"nice":false,"zero":false},"axis":null},
    "y":{"field":"u","type":"quantitative","scale":{"domain":[-740,720],"nice":false,"zero":false},"axis":null},"y2":{"field":"d"}}},
  {"data":{"values":[{}]},"mark":{"type":"text","text":"9","align":"right","baseline":"middle"},
   "encoding":{"x":{"datum":0.0,"type":"quantitative","scale":{"domain":[-5.89,248.9],"nice":false,"zero":false},"axis":null},
    "y":{"datum":0,"type":"quantitative","scale":{"domain":[-740,720],"nice":false,"zero":false},"axis":null}}}
 ]},
{"width":946,"height":67,
 "layer":[
  {"data":{"name":"tr"},"transform":[{"filter":"datum.k == 11"}],"mark":{"type":"area","color":"black","opacity":1},
   "encoding":{"x":{"field":"t","type":"quantitative","scale":{"domain":[-5.89,248.9],"nice":false,"zero":false},"axis":null},
    "y":{"field":"u","type":"quantitative","scale":{"domain":[-610,730],"nice":false,"zero":false},"axis":null},"y2":{"field":"d"}}},
  {"data":{"values":[{}]},"mark":{"type":"text","text":"11","align":"right","baseline":"middle"},
   "encoding":{"x":{"datum":0.8,"type":"quantitative","scale":{"domain":[-5.89,248.9],"nice":false,"zero":false},"axis":null},
    "y":{"datum":0,"type":"quantitative","scale":{"domain":[-610,730],"nice":false,"zero":false},"axis":null}}}
 ]},
{"width":946,"height":85,
 "layer":[
  {"data":{"name":"rp"},"mark":{"type":"line","color":"black","strokeWidth":1.8,"strokeJoin":"round"},
   "encoding":{"x":{"field":"t","type":"quantitative","scale":{"domain":[-5.89,248.9],"nice":false,"zero":false},"axis":null},
    "y":{"field":"p","type":"quantitative","scale":{"domain":[0,65.4],"nice":false,"zero":false},"axis":null}}},
  {"data":{"values":[{}]},"mark":{"type":"text","text":"R.p.","align":"left","baseline":"alphabetic"},
   "encoding":{"x":{"datum":-2.4,"type":"quantitative","scale":{"domain":[-5.89,248.9],"nice":false,"zero":false},"axis":null},
    "y":{"datum":5.4,"type":"quantitative","scale":{"domain":[0,65.4],"nice":false,"zero":false},"axis":null}}},
  {"data":{"values":[{}]},"mark":{"type":"rule","color":"black","strokeWidth":1.8},
   "encoding":{"x":{"datum":196.9,"type":"quantitative","scale":{"domain":[-5.89,248.9],"nice":false,"zero":false},"axis":null},
    "y":{"datum":16,"type":"quantitative","scale":{"domain":[0,65.4],"nice":false,"zero":false},"axis":null},"y2":{"datum":26}}},
  {"data":{"values":[{}]},"mark":{"type":"rule","color":"black","strokeWidth":1.2},
   "encoding":{"x":{"datum":196.4,"type":"quantitative","scale":{"domain":[-5.89,248.9],"nice":false,"zero":false},"axis":null},"x2":{"datum":197.4},
    "y":{"datum":16,"type":"quantitative","scale":{"domain":[0,65.4],"nice":false,"zero":false},"axis":null}}},
  {"data":{"values":[{}]},"mark":{"type":"rule","color":"black","strokeWidth":1.2},
   "encoding":{"x":{"datum":196.4,"type":"quantitative","scale":{"domain":[-5.89,248.9],"nice":false,"zero":false},"axis":null},"x2":{"datum":197.4},
    "y":{"datum":26,"type":"quantitative","scale":{"domain":[0,65.4],"nice":false,"zero":false},"axis":null}}},
  {"data":{"values":[{}]},"mark":{"type":"text","text":"10 mmHg","align":"left","baseline":"alphabetic"},
   "encoding":{"x":{"datum":198.6,"type":"quantitative","scale":{"domain":[-5.89,248.9],"nice":false,"zero":false},"axis":null},
    "y":{"datum":15.6,"type":"quantitative","scale":{"domain":[0,65.4],"nice":false,"zero":false},"axis":null}}}
 ]}
]
}
